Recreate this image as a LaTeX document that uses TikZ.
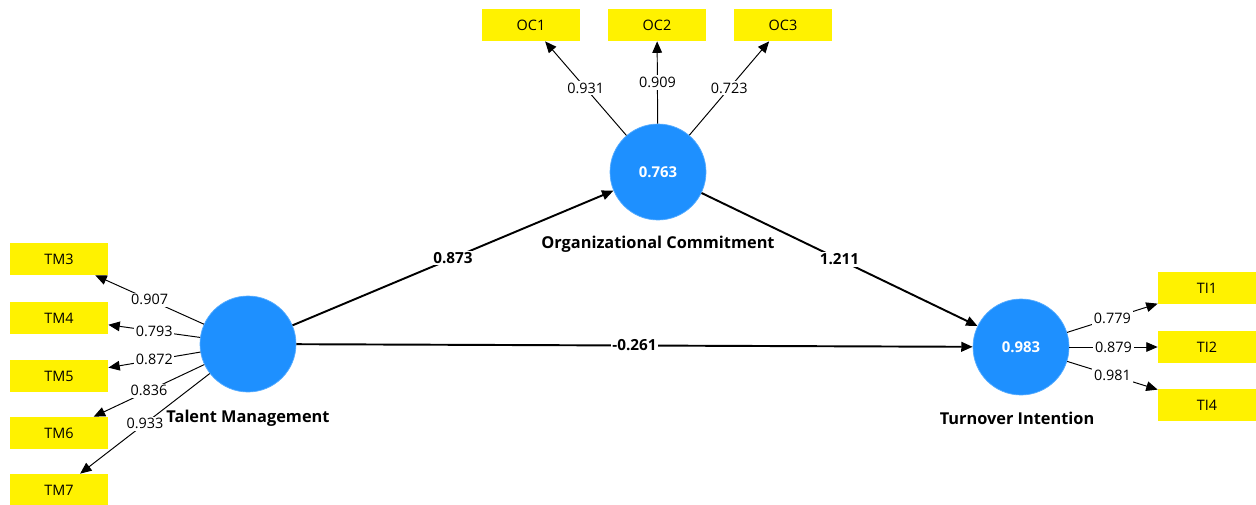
\documentclass[tikz,border=0pt]{standalone}
\usepackage{fontspec}
\setmainfont{Open Sans}
\usetikzlibrary{arrows.meta}
\definecolor{lvblue}{RGB}{30,144,255}
\definecolor{indyellow}{RGB}{255,242,0}
\tikzset{
  latent/.style={circle, fill=lvblue, draw=lvblue!75!white, minimum size=1.92cm, inner sep=0pt, text=white, font=\fontsize{8.5}{10}\selectfont\bfseries},
  indicator/.style={rectangle, fill=indyellow, minimum width=1.96cm, minimum height=0.64cm, inner sep=0pt},
  loading/.style={->, line width=0.55pt},
  path/.style={->, line width=1.1pt},
  lval/.style={midway, fill=white, inner sep=1pt},
  pval/.style={midway, fill=white, inner sep=1pt, font=\fontsize{8.7}{10}\selectfont\bfseries},
  lvname/.style={font=\fontsize{9.3}{11}\selectfont\bfseries}
}
\begin{document}
\begin{tikzpicture}[x=0.02cm, y=-0.02cm, font=\fontsize{8.2}{10}\selectfont, line join=round, >={Triangle[length=6.5pt,width=5.5pt]}]
  \useasboundingbox (0,0) rectangle (1256,504);
  % latent variables
  \node[latent] (tm) at (248,344) {};
  \node[latent] (oc) at (658,172) {0.763};
  \node[latent] (ti) at (1021,347) {0.983};
  \node[lvname] (tmname) at (248,418) {Talent Management};
  \node[lvname] (ocname) at (658,244) {Organizational Commitment};
  \node[lvname] (tiname) at (1017,418) {Turnover Intention};
  % indicators
  \foreach \n/\y in {3/259,4/318,5/376,6/433,7/490}
    \node[indicator] (tm\n) at (59,\y) {TM\n};
  \foreach \n/\x in {1/531,2/657,3/783}
    \node[indicator] (oc\n) at (\x,25) {OC\n};
  \foreach \n/\y in {1/288,2/347,4/405}
    \node[indicator] (ti\n) at (1207,\y) {TI\n};
  % outer loadings
  \foreach \n/\v in {3/0.907,4/0.793,5/0.872,6/0.836,7/0.933}
    \draw[loading] (tm) -- (tm\n) node[lval] {\v};
  \foreach \n/\v in {1/0.931,2/0.909,3/0.723}
    \draw[loading] (oc) -- (oc\n) node[lval] {\v};
  \foreach \n/\v in {1/0.779,2/0.879,4/0.981}
    \draw[loading] (ti) -- (ti\n) node[lval] {\v};
  % path coefficients
  \draw[path] (tm) -- (oc) node[pval] {0.873};
  \draw[path] (oc) -- (ti) node[pval] {1.211};
  \draw[path] (tm) -- (ti) node[pval] {-0.261};
\end{tikzpicture}
\end{document}
